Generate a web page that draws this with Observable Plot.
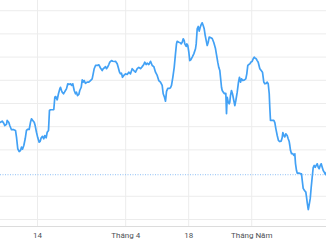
<!DOCTYPE html>
<html>
<head>
<meta charset="utf-8">
<script src="https://cdn.jsdelivr.net/npm/d3@7"></script>
<script src="https://cdn.jsdelivr.net/npm/@observablehq/plot@0.6"></script>
<style>
  html, body { margin: 0; padding: 0; background: #fff; }
  #chart svg { display: block; }
</style>
</head>
<body>
<div id="chart"></div>
<script>
// Trading-day position (0 = the "14" tick) and price for each sample
const tradingDay = [-5.87,-5.60,-5.35,-5.19,-4.92,-4.81,-4.56,-4.40,-4.13,-3.76,-3.49,-3.33,-3.13,-2.90,-2.70,-2.54,-2.38,-2.17,-1.95,-1.75,-1.54,-1.32,-1.11,-0.95,-0.75,-0.52,-0.37,-0.16,0.05,0.27,0.43,0.59,0.79,1.00,1.16,1.38,1.54,1.75,1.90,2.06,2.59,2.75,2.90,3.13,3.33,3.54,3.65,3.81,3.92,4.13,4.29,4.44,4.60,4.81,4.97,5.24,5.40,5.60,5.83,6.03,6.19,6.35,6.56,6.71,6.94,7.10,7.25,7.41,7.62,7.89,8.14,8.41,8.68,8.84,9.00,9.21,9.48,9.73,10.00,10.27,10.43,10.63,10.79,10.95,11.11,11.32,11.48,11.75,11.95,12.27,12.38,12.65,12.81,13.02,13.17,13.33,13.49,13.70,13.97,14.24,14.49,14.76,15.03,15.29,15.56,15.83,16.08,16.35,16.62,16.87,17.03,17.25,17.41,17.67,17.94,18.21,18.46,18.73,19.00,19.25,19.52,19.79,19.95,20.16,20.32,20.48,20.68,20.95,21.11,21.27,21.48,21.70,21.90,22.06,22.17,22.43,22.65,22.81,22.97,23.13,23.29,23.38,23.60,23.70,23.86,24.02,24.17,24.33,24.56,24.81,25.08,25.19,25.35,25.51,25.67,25.83,25.98,26.14,26.30,26.46,26.62,26.78,26.94,27.10,27.25,27.46,27.73,27.98,28.25,28.41,28.62,28.78,28.94,29.10,29.21,29.32,29.48,29.68,29.89,30.00,30.11,30.27,30.43,30.52,30.63,30.79,30.95,31.16,31.32,31.48,31.70,31.90,32.06,32.22,32.38,32.59,32.86,33.06,33.22,33.38,33.54,33.70,33.86,34.08,34.24,34.40,34.56,34.71,34.87,35.03,35.29,35.51,35.71,35.92,36.08,36.30,36.46,36.62,36.78,36.87,36.98,37.25,37.51,37.67,37.83,38.05,38.25,38.46,38.68,38.84,38.94,39.10,39.25,39.41,39.63,39.79,39.95,40.05,40.16,40.32,40.52,40.68,40.84,40.95,41.11,41.22,41.48,41.75,41.90,42.02,42.17,42.38,42.59,42.70,42.81,42.90,42.98,43.13,43.29,43.44,43.60,43.76,43.92,44.08,44.24,44.40,44.56,44.71,44.87,45.03,45.19,45.35,45.51,45.71,45.87];
const price = [141.9,142.4,141.5,140.5,141.0,142.7,141.9,140.5,138.7,138.7,138.4,135.5,130.5,129.3,129.7,131.2,130.3,131.9,134.8,138.4,138.9,138.8,141.9,143.4,142.7,141.9,140.5,137.6,135.2,133.3,133.7,135.2,135.8,134.8,136.2,135.2,137.6,138.4,147.0,147.3,147.4,152.7,153.0,151.6,154.2,156.3,157.0,155.6,154.9,154.2,154.9,155.6,156.3,158.5,158.2,158.5,157.8,158.5,155.6,154.2,154.9,153.4,153.9,155.6,157.0,160.2,159.2,159.9,158.7,159.2,159.2,159.9,160.6,162.8,165.0,166.4,166.4,166.7,165.3,164.2,165.0,165.4,165.9,165.0,165.6,166.8,167.8,168.5,168.2,168.1,168.2,167.1,165.6,163.5,162.8,163.1,161.3,162.1,162.8,162.5,163.5,162.8,165.0,164.2,163.5,165.0,165.6,165.0,165.9,166.8,167.8,166.8,167.4,166.8,168.2,166.4,165.9,163.5,162.1,159.9,159.2,157.8,154.2,152.7,151.0,155.2,156.5,156.5,156.8,157.8,161.3,165.6,171.4,175.7,176.8,176.4,176.2,175.7,176.4,177.9,177.1,175.7,174.6,175.7,175.0,172.1,168.5,168.8,170.0,171.4,173.6,175.7,182.2,183.2,181.2,182.9,184.0,184.8,183.6,182.2,179.3,177.1,175.0,176.4,178.6,178.4,178.0,176.3,173.7,171.1,167.7,165.5,164.2,159.9,156.9,155.6,154.9,154.2,154.4,145.6,152.7,150.6,149.9,150.6,153.4,155.6,154.2,151.3,149.1,151.3,154.9,159.2,161.3,159.2,160.6,159.9,160.2,160.6,162.8,166.4,166.8,167.1,167.8,168.2,169.3,170.0,169.5,169.3,168.5,167.8,165.0,164.2,163.5,159.2,158.5,158.7,159.2,158.5,154.2,148.4,142.7,142.7,142.7,141.8,139.2,136.2,134.0,133.6,133.8,135.3,137.5,136.2,135.6,136.9,136.2,134.8,133.6,131.9,129.7,128.4,128.4,127.6,128.3,124.1,121.1,120.0,120.0,119.8,119.7,116.8,113.4,112.5,111.8,109.6,107.3,105.6,104.3,106.5,109.1,113.8,118.2,122.4,123.3,122.5,123.3,124.0,122.5,121.9,123.3,124.0,122.5,121.1,120.4,119.4,120.4];
const previousClose = 119.3;
const xTickDays = [0, 14, 24, 34];
const xTickLabels = ["14", "Tháng 4", "18", "Tháng Năm"];
const yGridValues = [100, 110, 130, 140, 150, 160, 170, 180, 190];
const xDomain = [-5.87, 45.87];
const yDomain = [96.98, 194.4];

const data = tradingDay.map((t, i) => ({t, v: price[i]}));
const labelOf = new Map(xTickDays.map((d, i) => [d, xTickLabels[i]]));

const chart = Plot.plot({
  width: 326,
  height: 245,
  marginTop: 0,
  marginRight: 0,
  marginLeft: 0,
  marginBottom: 19,
  style: {background: "#fff", fontFamily: "Roboto, Arial, sans-serif"},
  x: {type: "linear", domain: xDomain, label: null},
  y: {domain: yDomain, axis: null, label: null},
  marks: [
    Plot.gridY(yGridValues, {stroke: "#ececec", strokeOpacity: 1, strokeWidth: 1}),
    Plot.gridX(xTickDays, {stroke: "#ececec", strokeOpacity: 1, strokeWidth: 1}),
    Plot.frame({anchor: "bottom", stroke: "#dcdcdc", strokeWidth: 1.2}),
    Plot.ruleY([previousClose], {stroke: "#8dbff5", strokeWidth: 1, strokeDasharray: "1,1.5"}),
    Plot.line(data, {x: "t", y: "v", stroke: "#42a1f5", strokeWidth: 1.7, strokeLinejoin: "round"}),
    Plot.axisX(xTickDays, {
      tickSize: 0,
      tickPadding: 6,
      fontSize: 8,
      fill: "#4d5156",
      label: null,
      tickFormat: d => labelOf.get(d)
    })
  ]
});
document.getElementById("chart").append(chart);
</script>
</body>
</html>
